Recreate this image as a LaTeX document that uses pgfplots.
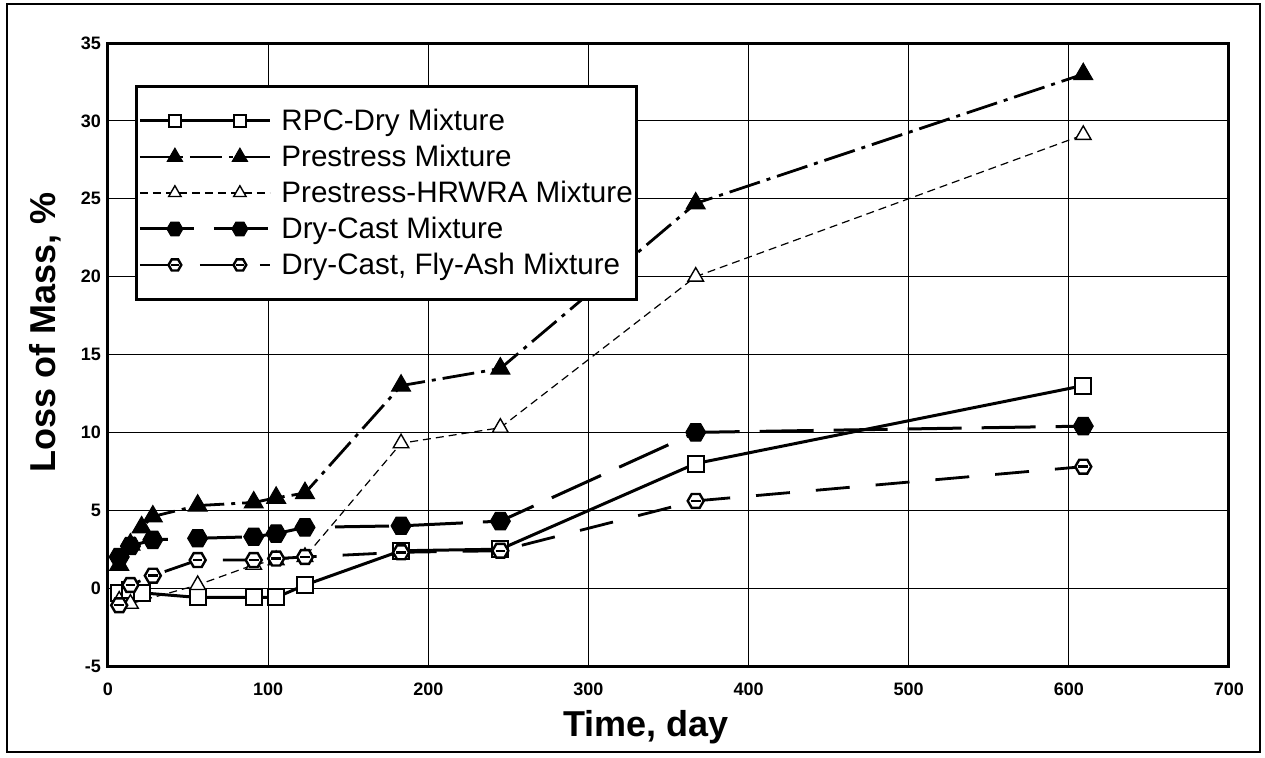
\documentclass[border=0pt]{standalone}
\usepackage{fontspec}
\setmainfont{Liberation Sans}
\usepackage{pgfplots}
\pgfplotsset{compat=1.18}

% hexagon marks (filled and open with a bar)
\pgfdeclareplotmark{hexagon}{%
  \pgfpathmoveto{\pgfqpoint{\pgfplotmarksize}{0pt}}%
  \pgfpathlineto{\pgfqpoint{0.5\pgfplotmarksize}{0.866\pgfplotmarksize}}%
  \pgfpathlineto{\pgfqpoint{-0.5\pgfplotmarksize}{0.866\pgfplotmarksize}}%
  \pgfpathlineto{\pgfqpoint{-\pgfplotmarksize}{0pt}}%
  \pgfpathlineto{\pgfqpoint{-0.5\pgfplotmarksize}{-0.866\pgfplotmarksize}}%
  \pgfpathlineto{\pgfqpoint{0.5\pgfplotmarksize}{-0.866\pgfplotmarksize}}%
  \pgfpathclose
  \pgfusepathqfillstroke}
\pgfdeclareplotmark{hexbar}{%
  \pgfpathmoveto{\pgfqpoint{\pgfplotmarksize}{0pt}}%
  \pgfpathlineto{\pgfqpoint{0.5\pgfplotmarksize}{0.866\pgfplotmarksize}}%
  \pgfpathlineto{\pgfqpoint{-0.5\pgfplotmarksize}{0.866\pgfplotmarksize}}%
  \pgfpathlineto{\pgfqpoint{-\pgfplotmarksize}{0pt}}%
  \pgfpathlineto{\pgfqpoint{-0.5\pgfplotmarksize}{-0.866\pgfplotmarksize}}%
  \pgfpathlineto{\pgfqpoint{0.5\pgfplotmarksize}{-0.866\pgfplotmarksize}}%
  \pgfpathclose
  \pgfusepathqfillstroke
  \pgfpathmoveto{\pgfqpoint{-0.6\pgfplotmarksize}{0pt}}%
  \pgfpathlineto{\pgfqpoint{0.6\pgfplotmarksize}{0pt}}%
  \pgfusepathqstroke}

\begin{document}
\begin{tikzpicture}
\useasboundingbox (-54pt,-45.5pt) rectangle (578.5pt,333pt);
\draw[line width=1.2pt] (-50.5pt,-43pt) rectangle (576pt,331pt);
\begin{axis}[
  scale only axis,
  width=560.5pt, height=311.5pt,
  xmin=0, xmax=700, ymin=-5, ymax=35,
  xtick={0,100,...,700}, ytick={-5,0,...,35},
  grid=major,
  major grid style={line width=0.5pt, black},
  axis line style={line width=1.5pt},
  tick style={draw=none},
  /pgf/number format/assume math mode=true,
  ticklabel style={font=\fontsize{9}{10}\selectfont\bfseries},
  xticklabel style={yshift=-5pt},
  xlabel={Time, day},
  ylabel={Loss of Mass, \%},
  every axis x label/.style={at={(axis description cs:0.48,0)}, anchor=center,
    yshift=-30.5pt, font=\fontsize{18}{20}\selectfont\bfseries},
  every axis y label/.style={at={(axis description cs:0,0.535)}, xshift=-31.5pt,
    rotate=90, anchor=center, font=\fontsize{18}{20}\selectfont\bfseries},
  legend cell align=left,
  legend style={at={(axis description cs:0.024,0.933)}, anchor=north west,
    draw=black, line width=1.5pt, fill=white,
    font=\fontsize{14.8}{17}\selectfont,
    nodes={text height=12.5pt, text depth=3.2pt, inner sep=1pt},
    row sep=0.3pt, inner xsep=1pt, inner ysep=8.5pt},
  legend image code/.code={%
    \draw[mark repeat=2, mark phase=2, #1, every mark/.append style={scale=0.8}]
      plot coordinates {(0pt,0pt) (17.5pt,0pt) (33pt,0pt) (50pt,0pt) (65pt,0pt)};
    \path (69pt,0pt);},
]
\addplot[black, line width=1.5pt, mark=square*, mark size=4pt,
  mark options={solid, fill=white, line width=1pt}]
  coordinates {(7,-0.3) (14,-0.1) (21,-0.3) (56,-0.6) (91,-0.6) (105,-0.6)
    (123,0.2) (183,2.4) (245,2.5) (367,8.0) (609,13.0)};
\addlegendentry{RPC-Dry Mixture}
\addplot[black, line width=1.4pt, dash pattern=on 16pt off 3.5pt on 2pt off 3.5pt,
  mark=triangle*, mark size=5.5pt, mark options={solid, fill=black, line width=0.5pt}]
  coordinates {(7,1.5) (14,2.8) (21,3.9) (28,4.6) (56,5.3) (91,5.5) (105,5.8)
    (123,6.1) (183,13.0) (245,14.1) (367,24.7) (609,33.0)};
\addlegendentry{Prestress Mixture}
\addplot[black, line width=0.6pt, dash pattern=on 4pt off 2.5pt,
  mark=triangle*, mark size=4.5pt, mark options={solid, fill=white, line width=0.7pt}]
  coordinates {(7,-0.8) (14,-1.0) (56,0.2) (91,1.5) (105,1.8) (123,2.0)
    (183,9.3) (245,10.3) (367,20.0) (609,29.1)};
\addlegendentry{Prestress-HRWRA Mixture}
\addplot[black, line width=1.5pt, dash pattern=on 27pt off 10pt,
  mark=hexagon, mark size=5pt, mark options={solid, fill=black, line width=0.5pt}]
  coordinates {(7,2.0) (14,2.7) (28,3.1) (56,3.2) (91,3.3) (105,3.5) (123,3.9)
    (183,4.0) (245,4.3) (367,10.0) (609,10.4)};
\addlegendentry{Dry-Cast Mixture}
\addplot[black, line width=1.4pt, dash pattern=on 17pt off 13pt,
  mark=hexbar, mark size=4pt, mark options={solid, fill=white, line width=1.2pt}]
  coordinates {(7,-1.1) (14,0.2) (28,0.8) (56,1.8) (91,1.8) (105,1.9) (123,2.0)
    (183,2.3) (245,2.4) (367,5.6) (609,7.8)};
\addlegendentry{Dry-Cast, Fly-Ash Mixture}
\end{axis}
\end{tikzpicture}
\end{document}
